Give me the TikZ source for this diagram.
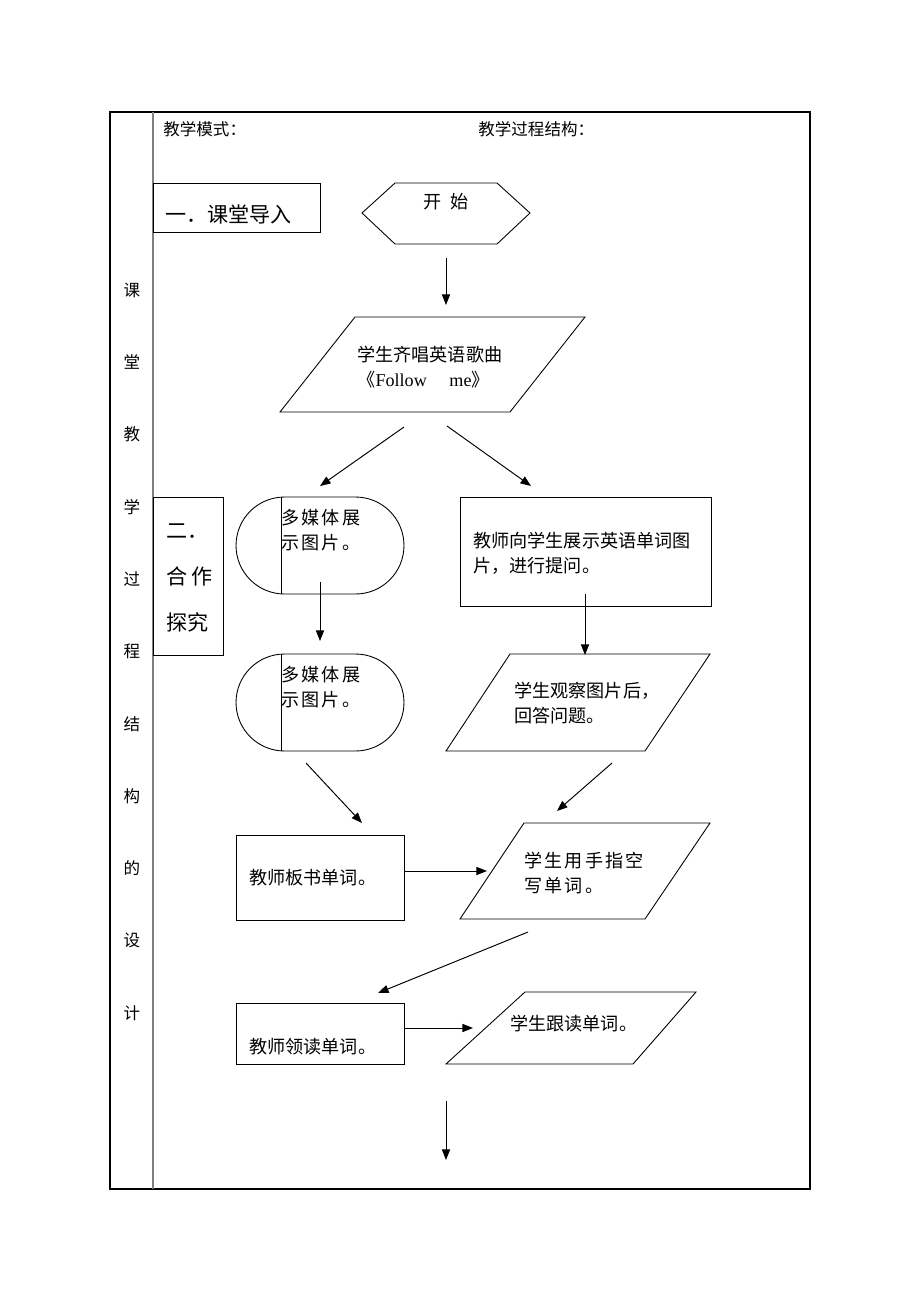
\documentclass[tikz,border=0pt]{standalone}
\usepackage{fontspec}
\setmainfont{Liberation Serif}
\newfontfamily\cjk{Noto Sans CJK SC}
\newfontfamily\cjksp[LetterSpace=12]{Noto Sans CJK SC}
\usetikzlibrary{arrows.meta}
\usetikzlibrary{shapes.misc}

\tikzset{
  flow/.style={-{Triangle[length=6pt,width=4.6pt]}, line width=0.55pt},
  txt/.style={font=\cjk\fontsize{10.3}{14.2}\selectfont, inner sep=0pt, align=left, anchor=west},
  txtsp/.style={txt, font=\cjksp\fontsize{10.3}{14.2}\selectfont},
  hd/.style={font=\cjk\fontsize{9.4}{12}\selectfont, inner sep=0pt, anchor=west},
  col/.style={font=\cjk\fontsize{9.4}{12}\selectfont, inner sep=0pt},
  stage/.style={font=\cjk\fontsize{12}{26.4}\selectfont, inner sep=0pt, align=left, anchor=west},
  term/.style={draw, rounded rectangle, line width=0.5pt, minimum width=3.36cm, minimum height=1.94cm, inner sep=0pt}
}

\begin{document}
\begin{tikzpicture}[x=0.02cm, y=-0.02cm, line width=0.5pt]
        \useasboundingbox (0,0) rectangle (920,1302);

        % frame
        \draw[line width=0.9pt] (110,112) rectangle (810,1189);
        \draw[gray, line width=0.8pt] (153,112) -- (153,1189);

        % header
        \node[hd] (mode) at (163,129) {教学模式：};
        \node[hd] (struct) at (478,129) {教学过程结构：};

        % left column
        \foreach \c [count=\i from 0] in {课,堂,教,学,过,程,结,构,的,设,计}
            \node[col] (c\i) at (132,290+72.3*\i) {\c};

        % stages
        \draw (153,183) rectangle (320,232);
        \node[stage] (stage1) at (165,214) {一．课堂导入};
        \draw (153,497) rectangle (223,655);
        \node[stage] (stage2) at (166,578) {二．\\合\,作\\探究};

        % start
        \draw (362,213) -- (395,183) -- (497,183) -- (530,213) -- (497,244) -- (395,244) -- cycle;
        \node[txt, anchor=center] (start) at (446,202) {开\enspace 始};

        % song
        \draw (355,317) -- (585,317) -- (510,412) -- (280,412) -- cycle;
        \node[txt] (song) at (357,367) {学生齐唱英语歌曲\\《{\rmfamily Follow\quad\ me}》};

        % left branch
        \node[term] (media1) at (320,545.5) {};
        \draw (281,497) -- (281,594);
        \node[txtsp] (media1t) at (281,530.5) {多媒体展\\示图片。};
        \node[term] (media2) at (320,702.5) {};
        \draw (281,654) -- (281,751);
        \node[txtsp] (media2t) at (281,687) {多媒体展\\示图片。};
        \draw (236,835) rectangle (404,920);
        \node[txt] (board) at (249,878) {教师板书单词。};
        \draw (236,1003) rectangle (404,1064);
        \node[txt] (lead) at (249,1047) {教师领读单词。};

        % right branch
        \draw (460,497) rectangle (711,606);
        \node[txt] (show) at (473,553.5) {教师向学生展示英语单词图\\片，进行提问。};
        \draw (510,654) -- (710,654) -- (645,751) -- (446,751) -- cycle;
        \node[txt] (observe) at (514,703.5) {学生观察图片后，\\回答问题。};
        \draw (524,823) -- (710,823) -- (645,919) -- (460,919) -- cycle;
        \node[txtsp] (write) at (524,873.5) {学生用手指空\\写单词。};
        \draw (525,992) -- (696,992) -- (633,1064) -- (446,1064) -- cycle;
        \node[txt] (repeat) at (510,1024) {学生跟读单词。};

        % arrow ends
        \coordinate (a1) at (446,258);  \coordinate (b1) at (446,305);
        \coordinate (a2) at (404,427);  \coordinate (b2) at (320,486);
        \coordinate (a3) at (447,426);  \coordinate (b3) at (531,486);
        \coordinate (a4) at (320,582);  \coordinate (b4) at (320,641);
        \coordinate (a5) at (585,594);  \coordinate (b5) at (585,655);
        \coordinate (a6) at (306,763);  \coordinate (b6) at (362,823);
        \coordinate (a7) at (612,763);  \coordinate (b7) at (557,811);
        \coordinate (a8) at (404,871);  \coordinate (b8) at (487,871);
        \coordinate (a9) at (528,932);  \coordinate (b9) at (378,993);
        \coordinate (a10) at (404,1028); \coordinate (b10) at (473,1028);
        \coordinate (a11) at (446,1101); \coordinate (b11) at (446,1160);

        % arrows
        \foreach \k in {1,...,11}
            \draw[flow] (a\k) -- (b\k);
\end{tikzpicture}
\end{document}
